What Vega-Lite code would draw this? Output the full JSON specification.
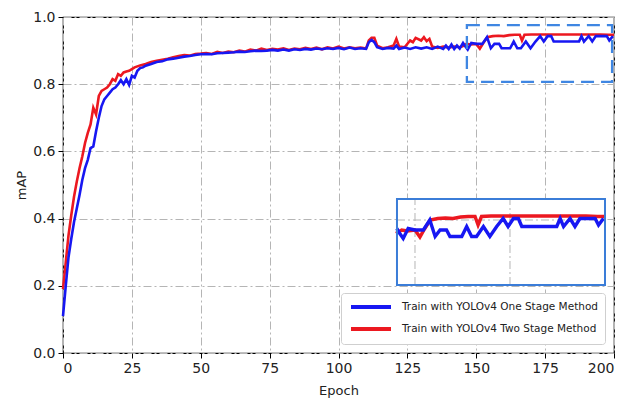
{
  "$schema": "https://vega.github.io/schema/vega-lite/v6.json",
  "width": 551,
  "height": 336,
  "autosize": {"type": "none"},
  "padding": {"left": 63, "top": 17, "right": 15, "bottom": 45},
  "config": {
    "view": {"stroke": "#000", "strokeWidth": 1.2},
    "font": "DejaVu Sans",
    "axis": {
      "labelFont": "DejaVu Sans", "labelFontSize": 14, "labelColor": "#222",
      "titleFont": "DejaVu Sans", "titleFontSize": 13, "titleFontWeight": "normal", "titleColor": "#222",
      "tickColor": "#000", "tickSize": 5, "domain": false,
      "gridColor": "#b5b5b5", "gridDash": [8, 3, 2, 3], "gridWidth": 1
    },
    "legend": {
      "orient": "bottom-right", "offset": 9, "fillColor": "white", "strokeColor": "#cfcfcf",
      "cornerRadius": 3, "padding": 7, "symbolType": "M-4,0H4", "symbolSize": 100,
      "symbolStrokeWidth": 4, "symbolOffset": 16, "labelFont": "DejaVu Sans", "labelFontSize": 10.5, "labelColor": "#222",
      "labelOffset": 24, "rowPadding": 6, "labelLimit": 400
    }
  },
  "datasets": {
    "one": [
      {"epoch": 0, "mAP": 0.11}, {"epoch": 1, "mAP": 0.2}, {"epoch": 2, "mAP": 0.285}, {"epoch": 3, "mAP": 0.34},
      {"epoch": 4, "mAP": 0.39}, {"epoch": 5, "mAP": 0.43}, {"epoch": 6, "mAP": 0.47}, {"epoch": 7, "mAP": 0.515},
      {"epoch": 8, "mAP": 0.55}, {"epoch": 9, "mAP": 0.575}, {"epoch": 10, "mAP": 0.61}, {"epoch": 11, "mAP": 0.615},
      {"epoch": 12, "mAP": 0.66}, {"epoch": 13, "mAP": 0.7}, {"epoch": 14, "mAP": 0.735}, {"epoch": 15, "mAP": 0.755},
      {"epoch": 16, "mAP": 0.765}, {"epoch": 17, "mAP": 0.775}, {"epoch": 18, "mAP": 0.785}, {"epoch": 19, "mAP": 0.79},
      {"epoch": 20, "mAP": 0.8}, {"epoch": 21, "mAP": 0.812}, {"epoch": 22, "mAP": 0.8}, {"epoch": 23, "mAP": 0.815},
      {"epoch": 24, "mAP": 0.798}, {"epoch": 25, "mAP": 0.825}, {"epoch": 26, "mAP": 0.82}, {"epoch": 27, "mAP": 0.84},
      {"epoch": 28, "mAP": 0.848}, {"epoch": 29, "mAP": 0.85}, {"epoch": 30, "mAP": 0.855}, {"epoch": 32, "mAP": 0.86},
      {"epoch": 34, "mAP": 0.866}, {"epoch": 36, "mAP": 0.868}, {"epoch": 38, "mAP": 0.874}, {"epoch": 40, "mAP": 0.876},
      {"epoch": 42, "mAP": 0.879}, {"epoch": 44, "mAP": 0.882}, {"epoch": 46, "mAP": 0.884}, {"epoch": 48, "mAP": 0.887},
      {"epoch": 50, "mAP": 0.889}, {"epoch": 52, "mAP": 0.89}, {"epoch": 54, "mAP": 0.889}, {"epoch": 56, "mAP": 0.892},
      {"epoch": 58, "mAP": 0.893}, {"epoch": 60, "mAP": 0.894}, {"epoch": 62, "mAP": 0.895}, {"epoch": 64, "mAP": 0.897},
      {"epoch": 66, "mAP": 0.896}, {"epoch": 68, "mAP": 0.898}, {"epoch": 70, "mAP": 0.9}, {"epoch": 72, "mAP": 0.899},
      {"epoch": 74, "mAP": 0.9}, {"epoch": 76, "mAP": 0.902}, {"epoch": 78, "mAP": 0.9}, {"epoch": 80, "mAP": 0.903},
      {"epoch": 82, "mAP": 0.9}, {"epoch": 84, "mAP": 0.904}, {"epoch": 86, "mAP": 0.902}, {"epoch": 88, "mAP": 0.905},
      {"epoch": 90, "mAP": 0.903}, {"epoch": 92, "mAP": 0.906}, {"epoch": 94, "mAP": 0.904}, {"epoch": 96, "mAP": 0.907},
      {"epoch": 98, "mAP": 0.905}, {"epoch": 100, "mAP": 0.908}, {"epoch": 102, "mAP": 0.904}, {"epoch": 104, "mAP": 0.909},
      {"epoch": 106, "mAP": 0.905}, {"epoch": 108, "mAP": 0.907}, {"epoch": 110, "mAP": 0.905}, {"epoch": 111, "mAP": 0.925},
      {"epoch": 112, "mAP": 0.932}, {"epoch": 113, "mAP": 0.925}, {"epoch": 114, "mAP": 0.91}, {"epoch": 116, "mAP": 0.905},
      {"epoch": 118, "mAP": 0.908}, {"epoch": 120, "mAP": 0.906}, {"epoch": 121, "mAP": 0.915}, {"epoch": 122, "mAP": 0.905},
      {"epoch": 124, "mAP": 0.909}, {"epoch": 126, "mAP": 0.905}, {"epoch": 128, "mAP": 0.91}, {"epoch": 130, "mAP": 0.906},
      {"epoch": 132, "mAP": 0.91}, {"epoch": 134, "mAP": 0.905}, {"epoch": 136, "mAP": 0.912}, {"epoch": 138, "mAP": 0.905},
      {"epoch": 139, "mAP": 0.915}, {"epoch": 140, "mAP": 0.905}, {"epoch": 141, "mAP": 0.918}, {"epoch": 142, "mAP": 0.905},
      {"epoch": 143, "mAP": 0.915}, {"epoch": 144, "mAP": 0.906},
      {"epoch": 145.2, "mAP": 0.923}, {"epoch": 146, "mAP": 0.913}, {"epoch": 146.9, "mAP": 0.903}, {"epoch": 148.2, "mAP": 0.923},
      {"epoch": 150, "mAP": 0.92}, {"epoch": 152.2, "mAP": 0.92}, {"epoch": 153.9, "mAP": 0.94}, {"epoch": 155.3, "mAP": 0.907},
      {"epoch": 156.6, "mAP": 0.92}, {"epoch": 158.3, "mAP": 0.92}, {"epoch": 159.2, "mAP": 0.907}, {"epoch": 162.3, "mAP": 0.907},
      {"epoch": 163.6, "mAP": 0.927}, {"epoch": 164.9, "mAP": 0.907}, {"epoch": 166.2, "mAP": 0.907}, {"epoch": 168, "mAP": 0.927},
      {"epoch": 169.7, "mAP": 0.907}, {"epoch": 171.5, "mAP": 0.927}, {"epoch": 173.2, "mAP": 0.943}, {"epoch": 174.5, "mAP": 0.927},
      {"epoch": 175.9, "mAP": 0.943}, {"epoch": 177.2, "mAP": 0.943}, {"epoch": 178.1, "mAP": 0.927}, {"epoch": 187.3, "mAP": 0.927},
      {"epoch": 188.2, "mAP": 0.943}, {"epoch": 189.1, "mAP": 0.927}, {"epoch": 190.8, "mAP": 0.943}, {"epoch": 192.1, "mAP": 0.927},
      {"epoch": 193.4, "mAP": 0.943}, {"epoch": 197.4, "mAP": 0.943}, {"epoch": 198.3, "mAP": 0.93}, {"epoch": 199.6, "mAP": 0.943}
    ],
    "two": [
      {"epoch": 0, "mAP": 0.19}, {"epoch": 1, "mAP": 0.27}, {"epoch": 2, "mAP": 0.35}, {"epoch": 3, "mAP": 0.41},
      {"epoch": 4, "mAP": 0.465}, {"epoch": 5, "mAP": 0.51}, {"epoch": 6, "mAP": 0.55}, {"epoch": 7, "mAP": 0.585},
      {"epoch": 8, "mAP": 0.625}, {"epoch": 9, "mAP": 0.655}, {"epoch": 10, "mAP": 0.68}, {"epoch": 11, "mAP": 0.73},
      {"epoch": 12, "mAP": 0.71}, {"epoch": 13, "mAP": 0.765}, {"epoch": 14, "mAP": 0.78}, {"epoch": 15, "mAP": 0.785},
      {"epoch": 16, "mAP": 0.79}, {"epoch": 17, "mAP": 0.8}, {"epoch": 18, "mAP": 0.815}, {"epoch": 19, "mAP": 0.81},
      {"epoch": 20, "mAP": 0.83}, {"epoch": 21, "mAP": 0.825}, {"epoch": 22, "mAP": 0.835}, {"epoch": 23, "mAP": 0.838},
      {"epoch": 24, "mAP": 0.84}, {"epoch": 25, "mAP": 0.845}, {"epoch": 26, "mAP": 0.85}, {"epoch": 28, "mAP": 0.856},
      {"epoch": 30, "mAP": 0.86}, {"epoch": 32, "mAP": 0.866}, {"epoch": 34, "mAP": 0.87}, {"epoch": 36, "mAP": 0.873},
      {"epoch": 38, "mAP": 0.876}, {"epoch": 40, "mAP": 0.88}, {"epoch": 42, "mAP": 0.884}, {"epoch": 44, "mAP": 0.887},
      {"epoch": 46, "mAP": 0.885}, {"epoch": 48, "mAP": 0.89}, {"epoch": 50, "mAP": 0.891}, {"epoch": 52, "mAP": 0.893},
      {"epoch": 54, "mAP": 0.89}, {"epoch": 56, "mAP": 0.896}, {"epoch": 58, "mAP": 0.893}, {"epoch": 60, "mAP": 0.897},
      {"epoch": 62, "mAP": 0.895}, {"epoch": 64, "mAP": 0.9}, {"epoch": 66, "mAP": 0.897}, {"epoch": 68, "mAP": 0.903},
      {"epoch": 70, "mAP": 0.9}, {"epoch": 72, "mAP": 0.906}, {"epoch": 74, "mAP": 0.902}, {"epoch": 76, "mAP": 0.905},
      {"epoch": 78, "mAP": 0.903}, {"epoch": 80, "mAP": 0.907}, {"epoch": 82, "mAP": 0.902}, {"epoch": 84, "mAP": 0.906},
      {"epoch": 86, "mAP": 0.904}, {"epoch": 88, "mAP": 0.908}, {"epoch": 90, "mAP": 0.905}, {"epoch": 92, "mAP": 0.909},
      {"epoch": 94, "mAP": 0.904}, {"epoch": 96, "mAP": 0.91}, {"epoch": 98, "mAP": 0.906}, {"epoch": 100, "mAP": 0.912},
      {"epoch": 102, "mAP": 0.906}, {"epoch": 104, "mAP": 0.91}, {"epoch": 106, "mAP": 0.907}, {"epoch": 108, "mAP": 0.909},
      {"epoch": 110, "mAP": 0.906}, {"epoch": 111, "mAP": 0.93}, {"epoch": 112, "mAP": 0.938}, {"epoch": 113, "mAP": 0.938},
      {"epoch": 114, "mAP": 0.915}, {"epoch": 116, "mAP": 0.907}, {"epoch": 118, "mAP": 0.91}, {"epoch": 120, "mAP": 0.915},
      {"epoch": 121, "mAP": 0.935}, {"epoch": 122, "mAP": 0.912}, {"epoch": 124, "mAP": 0.91}, {"epoch": 126, "mAP": 0.93},
      {"epoch": 127, "mAP": 0.925}, {"epoch": 128, "mAP": 0.938}, {"epoch": 130, "mAP": 0.93}, {"epoch": 131, "mAP": 0.94},
      {"epoch": 132, "mAP": 0.928}, {"epoch": 133, "mAP": 0.935}, {"epoch": 134, "mAP": 0.912}, {"epoch": 136, "mAP": 0.908},
      {"epoch": 138, "mAP": 0.912}, {"epoch": 140, "mAP": 0.909}, {"epoch": 142, "mAP": 0.912}, {"epoch": 144, "mAP": 0.91},
      {"epoch": 145, "mAP": 0.913}, {"epoch": 146.5, "mAP": 0.92}, {"epoch": 148, "mAP": 0.918}, {"epoch": 150, "mAP": 0.92},
      {"epoch": 151.3, "mAP": 0.906}, {"epoch": 152.5, "mAP": 0.922}, {"epoch": 154, "mAP": 0.94}, {"epoch": 156, "mAP": 0.943},
      {"epoch": 158, "mAP": 0.944}, {"epoch": 160, "mAP": 0.943}, {"epoch": 162, "mAP": 0.946}, {"epoch": 164, "mAP": 0.947},
      {"epoch": 165.8, "mAP": 0.947}, {"epoch": 166.6, "mAP": 0.93}, {"epoch": 167.5, "mAP": 0.947}, {"epoch": 170, "mAP": 0.948},
      {"epoch": 175, "mAP": 0.948}, {"epoch": 180, "mAP": 0.948}, {"epoch": 185, "mAP": 0.948}, {"epoch": 190, "mAP": 0.948},
      {"epoch": 195, "mAP": 0.948}, {"epoch": 198, "mAP": 0.947}, {"epoch": 200, "mAP": 0.947}
    ]
  },
  "layer": [
    {
      "layer": [
        {
          "data": {"name": "two"},
          "mark": {"type": "line", "strokeWidth": 2.6},
          "encoding": {
            "x": {"field": "epoch", "type": "quantitative", "scale": {"domain": [0, 200], "nice": false},
                  "axis": {"values": [0, 25, 50, 75, 100, 125, 150, 175, 200], "title": "Epoch", "labelPadding": 3, "titlePadding": 9}},
            "y": {"field": "mAP", "type": "quantitative", "scale": {"domain": [0, 1], "nice": false},
                  "axis": {"values": [0, 0.2, 0.4, 0.6, 0.8, 1.0], "format": ".1f", "title": "mAP", "labelPadding": 3, "titlePadding": 4}},
            "color": {"datum": "Train with YOLOv4 Two Stage Method", "type": "nominal",
                      "scale": {"domain": ["Train with YOLOv4 One Stage Method", "Train with YOLOv4 Two Stage Method"], "range": ["#1717f2", "#ec1820"]},
                      "legend": {"title": null}}
          }
        },
        {
          "data": {"name": "one"},
          "mark": {"type": "line", "strokeWidth": 2.6},
          "encoding": {
            "x": {"field": "epoch", "type": "quantitative"},
            "y": {"field": "mAP", "type": "quantitative"},
            "color": {"datum": "Train with YOLOv4 One Stage Method", "type": "nominal"}
          }
        },
        {
          "data": {"values": [{}]},
          "mark": {"type": "rect", "fillOpacity": 0, "stroke": "#3f86e2", "strokeWidth": 2.3, "strokeDash": [13, 7]},
          "encoding": {
            "x": {"datum": 146.6, "type": "quantitative"},
            "x2": {"datum": 199.3},
            "y": {"datum": 0.807, "type": "quantitative"},
            "y2": {"datum": 0.976}
          }
        }
      ]
    },
    {
      "layer": [
        {
          "data": {"values": [{}]},
          "mark": {"type": "rect", "fill": "white"},
          "encoding": {
            "x": {"datum": 145.26, "type": "quantitative", "scale": {"domain": [57.37, 202.37], "nice": false, "zero": false}, "axis": null},
            "x2": {"datum": 200},
            "y": {"datum": 0.81, "type": "quantitative", "scale": {"domain": [0.674, 1.346], "nice": false, "zero": false}, "axis": null},
            "y2": {"datum": 0.982}
          }
        },
        {
          "data": {"values": [{}]},
          "mark": {"type": "rule", "color": "#b5b5b5", "strokeWidth": 1, "strokeDash": [8, 3, 2, 3]},
          "encoding": {
            "x": {"datum": 150, "type": "quantitative"},
            "y": {"datum": 0.81, "type": "quantitative"},
            "y2": {"datum": 0.982}
          }
        },
        {
          "data": {"values": [{}]},
          "mark": {"type": "rule", "color": "#b5b5b5", "strokeWidth": 1, "strokeDash": [8, 3, 2, 3]},
          "encoding": {
            "x": {"datum": 175, "type": "quantitative"},
            "y": {"datum": 0.81, "type": "quantitative"},
            "y2": {"datum": 0.982}
          }
        },
        {
          "data": {"values": [{}]},
          "mark": {"type": "rule", "color": "#b5b5b5", "strokeWidth": 1, "strokeDash": [8, 3, 2, 3]},
          "encoding": {
            "x": {"datum": 145.26, "type": "quantitative"},
            "x2": {"datum": 200},
            "y": {"datum": 0.94, "type": "quantitative"}
          }
        },
        {
          "data": {"name": "two"},
          "transform": [{"filter": "datum.epoch >= 145"}],
          "mark": {"type": "line", "strokeWidth": 3.4},
          "encoding": {
            "x": {"field": "epoch", "type": "quantitative"},
            "y": {"field": "mAP", "type": "quantitative"},
            "color": {"datum": "Train with YOLOv4 Two Stage Method", "type": "nominal"}
          }
        },
        {
          "data": {"name": "one"},
          "transform": [{"filter": "datum.epoch >= 145"}],
          "mark": {"type": "line", "strokeWidth": 3.4},
          "encoding": {
            "x": {"field": "epoch", "type": "quantitative"},
            "y": {"field": "mAP", "type": "quantitative"},
            "color": {"datum": "Train with YOLOv4 One Stage Method", "type": "nominal"}
          }
        },
        {
          "data": {"values": [{}]},
          "mark": {"type": "rect", "fillOpacity": 0, "stroke": "#3b7dd8", "strokeWidth": 2},
          "encoding": {
            "x": {"datum": 145.26, "type": "quantitative"},
            "x2": {"datum": 200},
            "y": {"datum": 0.81, "type": "quantitative"},
            "y2": {"datum": 0.982}
          }
        }
      ]
    }
  ],
  "resolve": {"scale": {"x": "independent", "y": "independent"}}
}
